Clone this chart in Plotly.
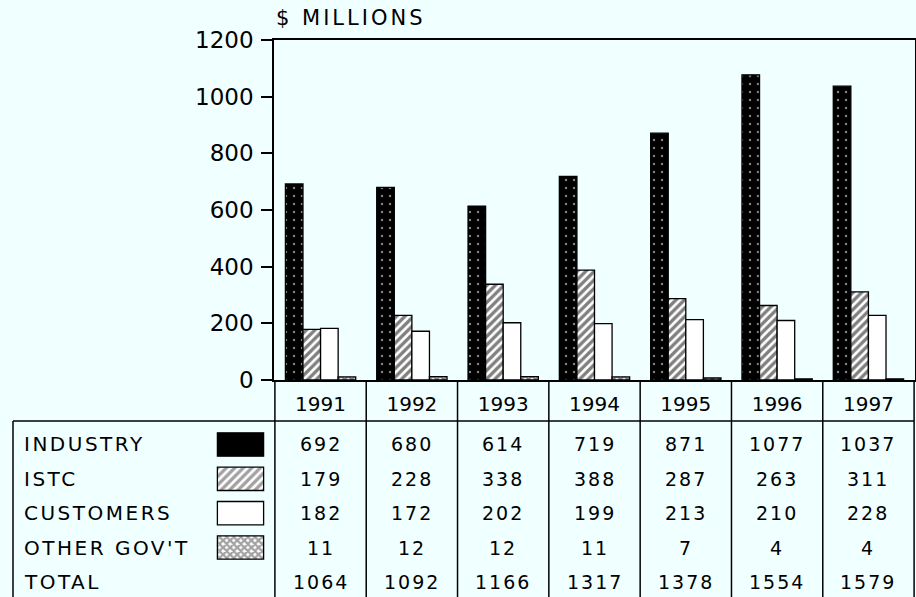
import plotly.graph_objects as go

# ---- data -------------------------------------------------------------
years = ["1991", "1992", "1993", "1994", "1995", "1996", "1997"]
series = ["INDUSTRY", "ISTC", "CUSTOMERS", "OTHER GOV'T"]
industry = [692, 680, 614, 719, 871, 1077, 1037]
istc = [179, 228, 338, 388, 287, 263, 311]
customers = [182, 172, 202, 199, 213, 210, 228]
other_govt = [11, 12, 12, 11, 7, 4, 4]
totals = [1064, 1092, 1166, 1317, 1378, 1554, 1579]
y_ticks = [0, 200, 400, 600, 800, 1000, 1200]
y_title = "$ MILLIONS"
total_label = "TOTAL"

values = [industry, istc, customers, other_govt]

# ---- page geometry ----------------------------------------------------
W, H = 916, 597
BG = "#f0ffff"
FONT = "DejaVu Sans"
INK = "black"


def px_x(p):
    return p / W


def px_y(p):
    return 1 - p / H


def spaced(text, gap):
    return f'<span style="letter-spacing:{gap}px">{text}</span>'


# fill style for each series: solid colour plus hatch pattern
fills = [
    dict(color="black", shape=".", bg="black", fg="white", size=8, solidity=0.08),
    dict(color="white", shape="/", bg="white", fg="black", size=6, solidity=0.55),
    dict(color="white", shape="", bg="white", fg="black", size=6, solidity=0.3),
    dict(color="white", shape="x", bg="white", fg="black", size=5, solidity=0.7),
]

fig = go.Figure()

x_pos = list(range(len(years)))
for name, vals, f in zip(series, values, fills):
    fig.add_trace(go.Bar(
        x=x_pos, y=vals, name=name,
        marker=dict(
            color=f["color"],
            line=dict(color=INK, width=1.3),
            pattern=dict(shape=f["shape"], bgcolor=f["bg"], fgcolor=f["fg"],
                         size=f["size"], solidity=f["solidity"]),
        ),
        xaxis="x", yaxis="y", showlegend=False, hoverinfo="skip",
    ))

# key swatches in the table, one per series row
swatch_fills = [dict(f) for f in fills]
swatch_fills[0]["shape"] = ""
fig.add_trace(go.Bar(
    x=[1] * len(series), y=list(range(len(series))), base=0,
    orientation="h", width=0.68,
    marker=dict(
        color=[f["color"] for f in swatch_fills],
        line=dict(color=INK, width=1.3),
        pattern=dict(
            shape=[f["shape"] for f in swatch_fills],
            bgcolor=[f["bg"] for f in swatch_fills],
            fgcolor=[f["fg"] for f in swatch_fills],
            size=[f["size"] for f in swatch_fills],
            solidity=[f["solidity"] for f in swatch_fills],
        ),
    ),
    xaxis="x2", yaxis="y2", showlegend=False, hoverinfo="skip",
))

plot_top, plot_bottom = 40, 380
plot_left, plot_right = 274, 915

annotations = []

# axis heading
annotations.append(dict(
    text=spaced(y_title, 3), xref="paper", yref="paper",
    x=px_x(plot_left), y=px_y(18), xanchor="left", yanchor="middle",
    showarrow=False, font=dict(family=FONT, size=21, color=INK),
))

# table rows: series labels and values, then the totals row
rows = [(s, v) for s, v in zip(series, values)] + [(total_label, totals)]
for r, (label, vals) in enumerate(rows):
    annotations.append(dict(
        text=spaced(label, 2.5), xref="paper", yref="y2",
        x=px_x(22), y=r, xanchor="left", yanchor="middle",
        showarrow=False, font=dict(family=FONT, size=20, color=INK),
    ))
    for c, v in enumerate(vals):
        annotations.append(dict(
            text=spaced(str(v), 2), xref="x", yref="y2",
            x=c, y=r, xanchor="center", yanchor="middle",
            showarrow=False, font=dict(family=FONT, size=19, color=INK),
        ))

line = dict(color=INK, width=1.5)
shapes = []
# column dividers running from the zero line down through the table
for c in range(len(years) + 1):
    shapes.append(dict(type="line", xref="x", yref="paper",
                       x0=c - 0.5, x1=c - 0.5, y0=0, y1=px_y(plot_bottom),
                       line=line))
# top rule of the data table and its left edge
shapes.append(dict(type="line", xref="paper", yref="paper",
                   x0=px_x(13), x1=px_x(plot_right - 1),
                   y0=px_y(421), y1=px_y(421), line=line))
shapes.append(dict(type="line", xref="paper", yref="paper",
                   x0=px_x(13), x1=px_x(13), y0=0, y1=px_y(421), line=line))

fig.update_layout(
    width=W, height=H,
    margin=dict(l=0, r=0, t=0, b=0, pad=0, autoexpand=False),
    paper_bgcolor=BG, plot_bgcolor=BG,
    showlegend=False,
    barmode="group", bargap=0.23, bargroupgap=0,
    font=dict(family=FONT, color=INK),
    xaxis=dict(
        domain=[px_x(plot_left), px_x(plot_right)],
        range=[-0.51, 6.51], automargin=False,
        tickvals=x_pos, ticktext=years,
        ticks="", ticklabelstandoff=5,
        tickfont=dict(family=FONT, size=20, color=INK),
        showline=True, linecolor=INK, linewidth=1.5, mirror=True,
        showgrid=False, zeroline=False, fixedrange=True,
    ),
    yaxis=dict(
        domain=[px_y(plot_bottom), px_y(plot_top)],
        range=[0, 1200], automargin=False,
        tickvals=y_ticks,
        ticks="outside", ticklen=11, tickwidth=1.5, tickcolor=INK,
        ticklabelstandoff=3,
        tickfont=dict(family=FONT, size=23, color=INK),
        showline=True, linecolor=INK, linewidth=1.5, mirror=True,
        showgrid=False, zeroline=False, fixedrange=True,
    ),
    xaxis2=dict(
        domain=[px_x(216), px_x(265)], range=[-0.03, 1.03],
        anchor="y2", visible=False, fixedrange=True, automargin=False,
    ),
    yaxis2=dict(
        domain=[0, px_y(427.3)], range=[4.44, -0.5],
        anchor="x2", visible=False, fixedrange=True, automargin=False,
    ),
    annotations=annotations,
    shapes=shapes,
)

fig.write_html("out.html", config=dict(displayModeBar=False))
